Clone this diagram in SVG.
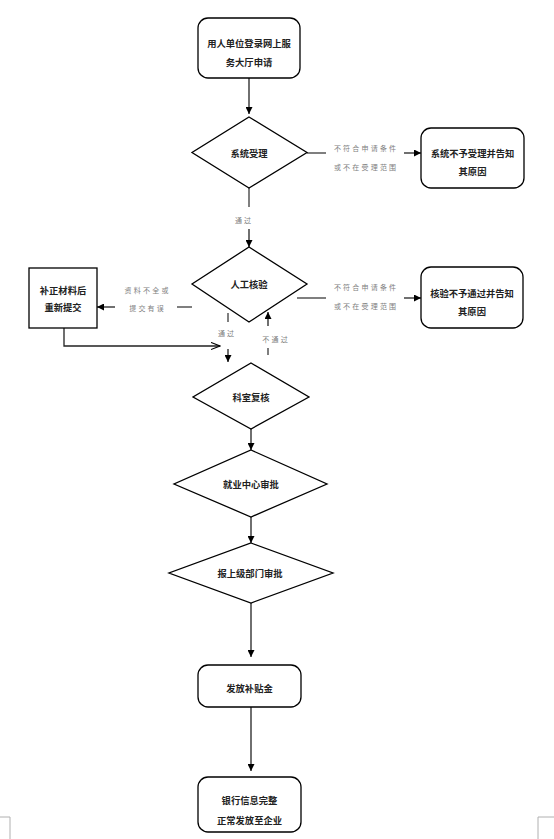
<svg xmlns="http://www.w3.org/2000/svg" width="554" height="839" viewBox="0 0 554 839">
<defs>
<style>
.shape{fill:#fff;stroke:#000;stroke-width:1.3}
.t{font-family:"Noto Sans CJK SC","Noto Sans",sans-serif;font-size:9.3px;font-weight:bold;fill:#222;text-anchor:middle;dominant-baseline:central}
.lb{font-family:"Noto Sans CJK SC","Noto Sans",sans-serif;font-size:7px;fill:#808080;text-anchor:middle;dominant-baseline:central;letter-spacing:2.2px}
.ln{fill:none;stroke:#222;stroke-width:1.3}
.gl{fill:none;stroke:#555;stroke-width:1.5}
.mk{fill:none;stroke:#b0b0b0;stroke-width:1}
</style>
<marker id="ah" viewBox="0 0 10 10" refX="10" refY="5" markerWidth="7" markerHeight="7" markerUnits="userSpaceOnUse" orient="auto"><path d="M0,0 L10,5 L0,10 z" fill="#000"/></marker>
<marker id="oa" viewBox="0 0 10 10" refX="10" refY="5" markerWidth="10" markerHeight="9" markerUnits="userSpaceOnUse" orient="auto"><path d="M0,1 L10,5 L0,9" fill="none" stroke="#000" stroke-width="1.2"/></marker>
</defs>
<rect width="554" height="839" fill="#fff"/>
<polyline class="mk" points="0,817 10,817 10,839"/>
<polyline class="mk" points="538,839 538,817 554,817"/>

<g id="connectors">
<line class="ln" x1="249" y1="78" x2="249" y2="114" marker-end="url(#ah)"/>
<line class="gl" x1="307" y1="153" x2="326" y2="153"/>
<line class="ln" x1="404" y1="153" x2="421" y2="153" marker-end="url(#ah)"/>
<text class="lb" x="366.1" y="148">不符合申请条件</text>
<text class="lb" x="366.1" y="167">或不在受理范围</text>
<line class="gl" x1="249" y1="188" x2="249" y2="207"/>
<text class="lb" x="244.1" y="220">通过</text>
<line class="ln" x1="249" y1="229" x2="249" y2="247" marker-end="url(#ah)"/>
<line class="gl" x1="297" y1="298" x2="326" y2="298"/>
<line class="ln" x1="404" y1="298" x2="421" y2="298" marker-end="url(#ah)"/>
<text class="lb" x="366.1" y="287">不符合申请条件</text>
<text class="lb" x="366.1" y="306">或不在受理范围</text>
<line class="gl" x1="177" y1="307" x2="192" y2="307"/>
<line class="ln" x1="115" y1="307" x2="97" y2="307" marker-end="url(#ah)"/>
<text class="lb" x="147.6" y="290">资料不全或</text>
<text class="lb" x="147.6" y="308">提交有误</text>
<polyline class="ln" points="64,328 64,346 220,346" marker-end="url(#oa)"/>
<line class="gl" x1="228" y1="313" x2="228" y2="322"/>
<text class="lb" x="227.1" y="333">通过</text>
<line class="ln" x1="228" y1="349" x2="228" y2="362" marker-end="url(#ah)"/>
<line class="gl" x1="268" y1="355" x2="268" y2="348"/>
<text class="lb" x="276.1" y="339">不通过</text>
<line class="ln" x1="268" y1="326" x2="268" y2="312" marker-end="url(#ah)"/>
<line class="ln" x1="251" y1="429" x2="251" y2="450" marker-end="url(#ah)"/>
<line class="ln" x1="251" y1="517" x2="251" y2="543" marker-end="url(#ah)"/>
<line class="ln" x1="251" y1="603" x2="251" y2="657" marker-end="url(#ah)"/>
<line class="ln" x1="251" y1="707" x2="251" y2="771" marker-end="url(#ah)"/>
</g>

<g id="n1"><rect class="shape" x="198" y="18" width="102" height="60" rx="10"/><text class="t" x="249" y="43">用人单位登录网上服</text><text class="t" x="249" y="62">务大厅申请</text></g>
<g id="n2"><polygon class="shape" points="249,117 307,152.5 249,188 192,152.5"/><text class="t" x="249" y="153">系统受理</text></g>
<g id="n3"><rect class="shape" x="421" y="128" width="103" height="60" rx="10"/><text class="t" x="472.5" y="153">系统不予受理并告知</text><text class="t" x="472.5" y="171">其原因</text></g>
<g id="n4"><polygon class="shape" points="249,247 307,284 249,322 192,284"/><text class="t" x="249" y="284">人工核验</text></g>
<g id="n5"><rect class="shape" x="29" y="268" width="68" height="60"/><text class="t" x="63" y="290">补正材料后</text><text class="t" x="63" y="307">重新提交</text></g>
<g id="n6"><rect class="shape" x="421" y="267" width="102" height="61" rx="10"/><text class="t" x="472" y="293">核验不予通过并告知</text><text class="t" x="472" y="311">其原因</text></g>
<g id="n7"><polygon class="shape" points="251,363 309,397 251,429 193,397"/><text class="t" x="251" y="397">科室复核</text></g>
<g id="n8"><polygon class="shape" points="251,450 327,484 251,517 174,484"/><text class="t" x="251" y="484">就业中心审批</text></g>
<g id="n9"><polygon class="shape" points="251,543 333,573 251,603 169,573"/><text class="t" x="250" y="573">报上级部门审批</text></g>
<g id="n10"><rect class="shape" x="198" y="665" width="103" height="42" rx="10"/><text class="t" x="249.5" y="688">发放补贴金</text></g>
<g id="n11"><rect class="shape" x="198" y="777" width="103" height="55" rx="10"/><text class="t" x="249.5" y="800">银行信息完整</text><text class="t" x="249.5" y="820">正常发放至企业</text></g>
</svg>
